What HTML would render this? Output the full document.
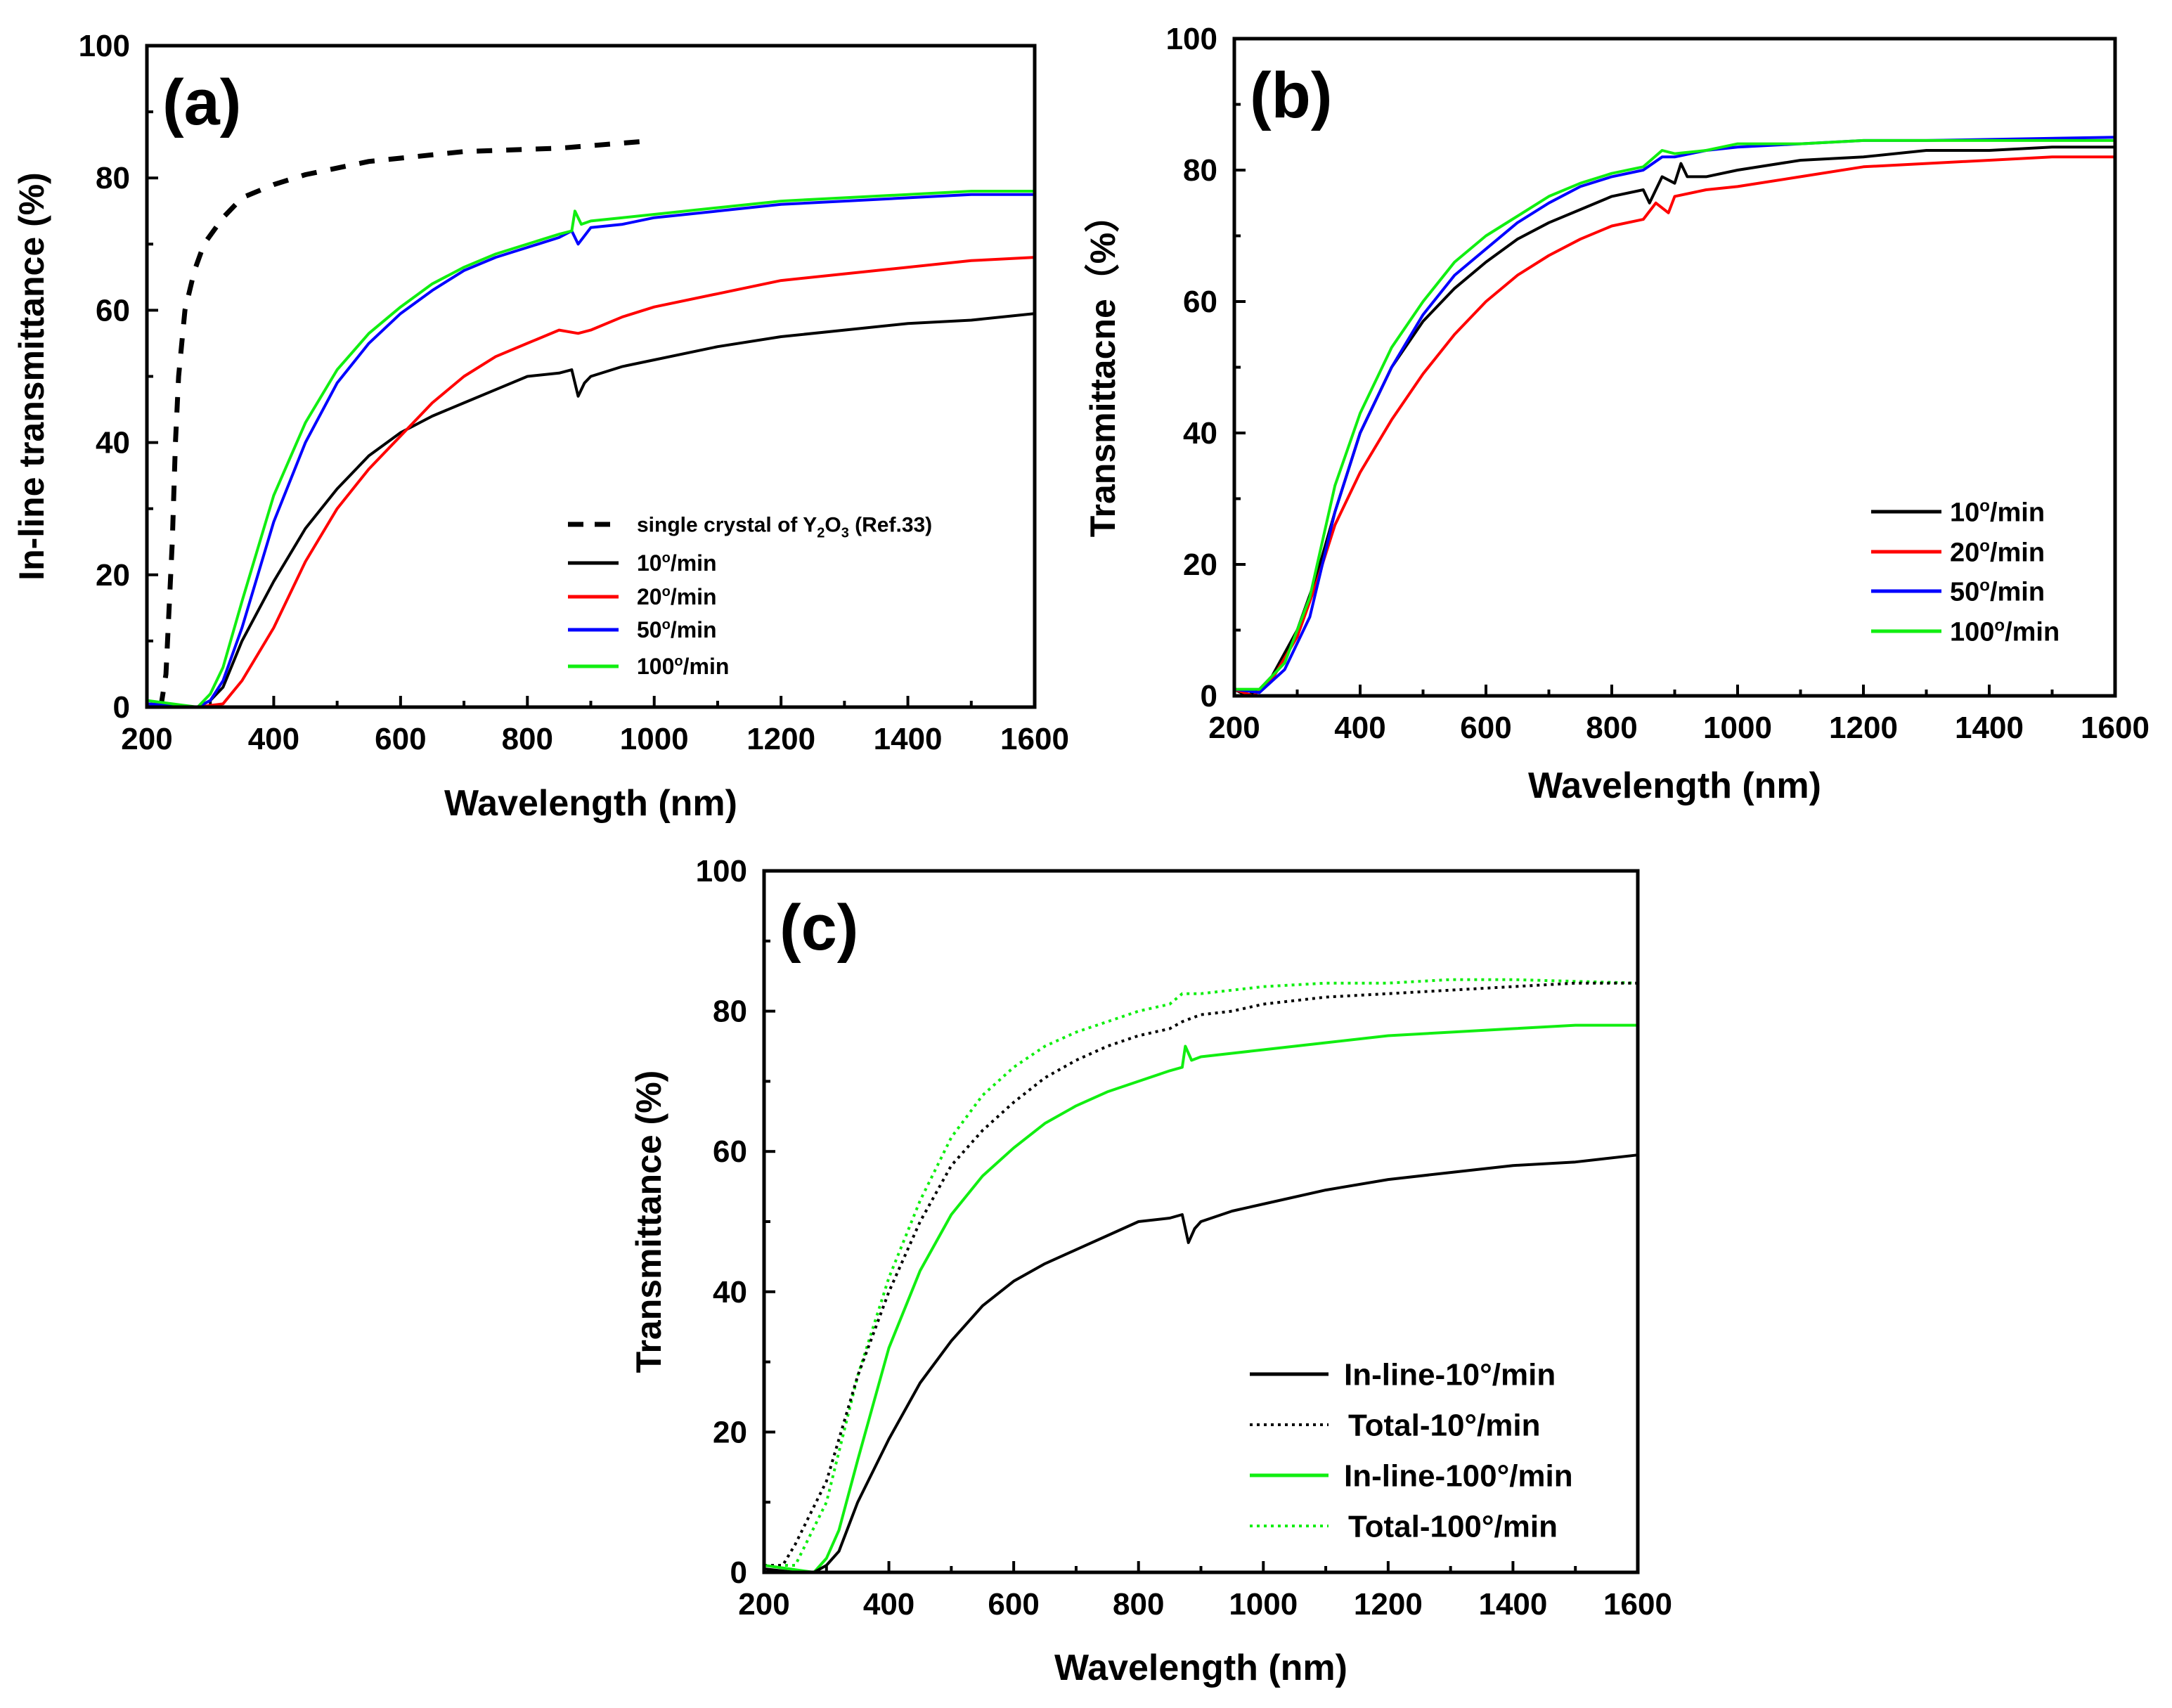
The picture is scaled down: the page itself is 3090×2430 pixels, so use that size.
<!DOCTYPE html>
<html><head><meta charset="utf-8"><style>
html,body{margin:0;padding:0;background:#fff}
svg{display:block}
text{font-family:"Liberation Sans",Arial,sans-serif;font-weight:bold;fill:#000}
</style></head><body>
<svg id="fig" width="3090" height="2430" viewBox="0 0 3090 2430" xmlns="http://www.w3.org/2000/svg"></svg>
<script>
// ---- data ----
const xA10=[200,250,280,300,320,350,400,450,500,550,600,650,700,750,800,850,870,880,890,900,950,1000,1100,1200,1300,1400,1500,1600];
const yA10=[0.5,0,0,1,3,10,19,27,33,38,41.5,44,46,48,50,50.5,51,47,49,50,51.5,52.5,54.5,56,57,58,58.5,59.5];
const xA20=[200,280,320,350,400,450,500,550,600,650,700,750,800,850,880,900,950,1000,1100,1200,1300,1400,1500,1600];
const yA20=[0.5,0,0.5,4,12,22,30,36,41,46,50,53,55,57,56.5,57,59,60.5,62.5,64.5,65.5,66.5,67.5,68];
const xA50=[200,280,300,320,350,400,450,500,550,600,650,700,750,800,850,870,880,900,950,1000,1100,1200,1300,1400,1500,1600];
const yA50=[0.5,0,1,4,12,28,40,49,55,59.5,63,66,68,69.5,71,72,70,72.5,73,74,75,76,76.5,77,77.5,77.5];
const xA100=[200,280,300,320,350,400,450,500,550,600,650,700,750,800,850,870,875,885,900,950,1000,1100,1200,1300,1400,1500,1600];
const yA100=[1,0,2,6,16,32,43,51,56.5,60.5,64,66.5,68.5,70,71.5,72,75,73,73.5,74,74.5,75.5,76.5,77,77.5,78,78];
const xCry=[222,230,240,245,250,260,275,290,320,350,400,450,550,700,850,980];
const yCry=[0,5,25,40,50,60,66,70,74,77,79,80.5,82.5,84,84.5,85.5];

const xB10=[200,220,240,260,300,330,360,400,450,500,550,600,650,700,750,800,850,860,880,900,910,920,950,1000,1100,1200,1300,1400,1500,1600];
const yB10=[1,0,1,3,10,18,28,40,50,57,62,66,69.5,72,74,76,77,75,79,78,81,79,79,80,81.5,82,83,83,83.5,83.5];
const xB20=[200,230,260,300,330,360,400,450,500,550,600,650,700,750,800,850,870,890,900,950,1000,1100,1200,1300,1400,1500,1600];
const yB20=[1,0,2.5,9,17,26,34,42,49,55,60,64,67,69.5,71.5,72.5,75,73.5,76,77,77.5,79,80.5,81,81.5,82,82];
const xB50=[200,240,280,320,360,400,450,500,550,600,650,700,750,800,850,880,900,950,1000,1100,1200,1300,1600];
const yB50=[1,0.5,4,12,28,40,50,58,64,68,72,75,77.5,79,80,82,82,83,83.5,84,84.5,84.5,85];
const xB100=[200,240,280,320,360,400,450,500,550,600,650,700,750,800,850,880,900,950,1000,1100,1200,1600];
const yB100=[1,1,5,15,32,43,53,60,66,70,73,76,78,79.5,80.5,83,82.5,83,84,84,84.5,84.5];

const xT10=[200,230,250,300,350,400,450,500,550,600,650,700,750,800,850,870,900,950,1000,1100,1200,1300,1400,1500,1600];
const yT10=[1,1,4,13,28,40,50,58,63,67,70.5,73,75,76.5,77.5,78.5,79.5,80,81,82,82.5,83,83.5,84,84];
const xT100=[200,250,300,350,400,450,500,550,600,650,700,750,800,850,870,900,950,1000,1100,1200,1300,1400,1600];
const yT100=[1,1,10,28,42,53,62,68,72,75,77,78.5,80,81,82.5,82.5,83,83.5,84,84,84.5,84.5,84];

const xTicks=[200,400,600,800,1000,1200,1400,1600];
const yTicks=[0,20,40,60,80,100];

const NS="http://www.w3.org/2000/svg";
const svg=document.getElementById('fig');
function mk(tag,attrs,parent){const e=document.createElementNS(NS,tag);for(const k in attrs)e.setAttribute(k,attrs[k]);(parent||svg).appendChild(e);return e;}

function panel(id,x0,y0,x1,y1,ytitle,ytx,xty,letter){
  const g=mk('g',{});
  
  
  const sx=v=>x0+(v-200)/1400*(x1-x0);
  const sy=v=>y1-v/100*(y1-y0);
  for(let v=200;v<=1600;v+=100){
    const len=v%200===0?16:9;
    const t=mk('line',{x1:sx(v),x2:sx(v),y1:y1,y2:y1-len,stroke:'#000','stroke-width':4},g);
    
    
  }
  for(let v=0;v<=100;v+=10){
    const len=v%20===0?16:9;
    const t=mk('line',{x1:x0,x2:x0+len,y1:sy(v),y2:sy(v),stroke:'#000','stroke-width':4},g);
    
    
  }
  xTicks.forEach(v=>{
    const t=mk('text',{x:sx(v),y:y1+60,'font-size':44,'text-anchor':'middle'},g);t.textContent=v;
    
    
  });
  yTicks.forEach(v=>{
    const t=mk('text',{x:x0-24,y:sy(v)+15,'font-size':44,'text-anchor':'end'},g);t.textContent=v;
    
    
  });
  const xt=mk('text',{x:(x0+x1)/2,y:xty,'font-size':52,'text-anchor':'middle'},g);xt.textContent='Wavelength (nm)';
  
  
  const yc=(y0+y1)/2;
  const yt=mk('text',{x:ytx,y:yc,'font-size':50,'text-anchor':'middle',transform:`rotate(-90 ${ytx} ${yc})`},g);yt.textContent=ytitle;
  
  
  const pl=mk('text',{x:x0+22,y:y0+112,'font-size':92},g);pl.textContent=letter;
  
  
  return {g,sx,sy,x0,y0,x1,y1};
}
function series(P,xs,ys,color,w,dash,name){
  let d='';xs.forEach((x,i)=>{d+=(i?'L':'M')+P.sx(x).toFixed(1)+','+P.sy(ys[i]).toFixed(1);});
  const a={d:d,fill:'none',stroke:color,'stroke-width':w,'stroke-linejoin':'round'};
  if(dash)a['stroke-dasharray']=dash;
  const p=mk('path',a,P.g);
  
  
}
function frame(P){
  const r=mk('rect',{x:P.x0,y:P.y0,width:P.x1-P.x0,height:P.y1-P.y0,fill:'none',stroke:'#000','stroke-width':5},P.g);
  
  
}
function legend(P,x,y,color,dash,w,label,fs,tx,name){
  const a={x1:x,x2:x+(name.startsWith('c')?112:(name.startsWith('b')?100:72)),y1:y,y2:y,stroke:color,'stroke-width':w};
  if(dash)a['stroke-dasharray']=dash;
  const l=mk('line',a,P.g);
  
  
  const t=mk('text',{x:tx,y:y+fs*0.35,'font-size':fs},P.g);t.innerHTML=label;
  
  
}
const G='#11ee11';
// (a)
const A=panel('a',209,65,1472,1006,'In-line transmittance (%)',62,1160,'(a)');
series(A,xCry,yCry,'#000',7,'22 20','series-single-crystal');
series(A,xA10,yA10,'#000',4,null,'series-10');
series(A,xA20,yA20,'#f00',4,null,'series-20');
series(A,xA50,yA50,'#0000ff',4,null,'series-50');
series(A,xA100,yA100,G,4,null,'series-100');
frame(A);
legend(A,808,746,'#000','22 16',7,'single crystal of Y<tspan font-size="20" dy="8">2</tspan><tspan dy="-8">O</tspan><tspan font-size="20" dy="8">3</tspan><tspan dy="-8"> (Ref.33)</tspan>',30,906,'a-legend-crystal');
legend(A,808,801,'#000',null,5,'10<tspan font-size="20" dy="-12">o</tspan><tspan dy="12">/min</tspan>',32,906,'a-legend-10');
legend(A,808,849,'#f00',null,5,'20<tspan font-size="20" dy="-12">o</tspan><tspan dy="12">/min</tspan>',32,906,'a-legend-20');
legend(A,808,896,'#0000ff',null,5,'50<tspan font-size="20" dy="-12">o</tspan><tspan dy="12">/min</tspan>',32,906,'a-legend-50');
legend(A,808,948,G,null,5,'100<tspan font-size="20" dy="-12">o</tspan><tspan dy="12">/min</tspan>',32,906,'a-legend-100');
// (b)
const B=panel('b',1756,55,3009,990,'Transmittacne（%）',1586,1135,'(b)');
series(B,xB10,yB10,'#000',4,null,'series-10');
series(B,xB20,yB20,'#f00',4,null,'series-20');
series(B,xB50,yB50,'#0000ff',4,null,'series-50');
series(B,xB100,yB100,G,4,null,'series-100');
frame(B);
legend(B,2662,728,'#000',null,5,'10<tspan font-size="24" dy="-14">o</tspan><tspan dy="14">/min</tspan>',38,2774,'b-legend-10');
legend(B,2662,785,'#f00',null,5,'20<tspan font-size="24" dy="-14">o</tspan><tspan dy="14">/min</tspan>',38,2774,'b-legend-20');
legend(B,2662,841,'#0000ff',null,5,'50<tspan font-size="24" dy="-14">o</tspan><tspan dy="14">/min</tspan>',38,2774,'b-legend-50');
legend(B,2662,898,G,null,5,'100<tspan font-size="24" dy="-14">o</tspan><tspan dy="14">/min</tspan>',38,2774,'b-legend-100');
// (c)
const C=panel('c',1087,1239,2330,2237,'Transmittance (%)',940,2390,'(c)');
series(C,xT100,yT100,G,4,'4 6','series-total-100');
series(C,xT10,yT10,'#000',4,'4 6','series-total-10');
series(C,xA100,yA100,G,4,null,'series-inline-100');
series(C,xA10,yA10,'#000',4,null,'series-inline-10');
frame(C);
legend(C,1778,1955,'#000',null,5,'In-line-10°/min',44,1912,'c-legend-inline-10');
legend(C,1778,2027,'#000','4 6',4,'Total-10°/min',44,1918,'c-legend-total-10');
legend(C,1778,2099,G,null,5,'In-line-100°/min',44,1912,'c-legend-inline-100');
legend(C,1778,2171,G,'4 6',4,'Total-100°/min',44,1918,'c-legend-total-100');
</script>
</body></html>
